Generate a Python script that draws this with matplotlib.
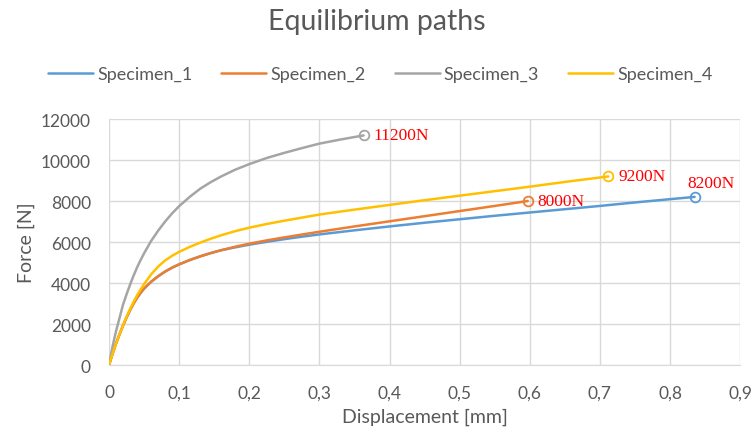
import matplotlib
matplotlib.use('Agg')
import matplotlib.pyplot as plt
from matplotlib.ticker import FuncFormatter, MultipleLocator

# data
x1 = [0, 0.005, 0.01, 0.015, 0.02, 0.025, 0.03, 0.035, 0.04, 0.045, 0.05, 0.06, 0.07, 0.08, 0.09, 0.1,
      0.115, 0.13, 0.145, 0.16, 0.18, 0.2, 0.225, 0.25, 0.275, 0.3, 0.35, 0.4, 0.45, 0.5, 0.55, 0.6,
      0.65, 0.7, 0.75, 0.8, 0.835]
f1 = [0, 550, 1050, 1500, 1930, 2320, 2680, 3000, 3280, 3520, 3730, 4060, 4330, 4560, 4750, 4910,
      5120, 5300, 5460, 5600, 5740, 5870, 6010, 6140, 6260, 6370, 6570, 6760, 6940, 7110, 7280, 7440,
      7600, 7760, 7930, 8090, 8200]
x2 = [0, 0.005, 0.01, 0.015, 0.02, 0.025, 0.03, 0.035, 0.04, 0.045, 0.05, 0.06, 0.07, 0.08, 0.09, 0.1,
      0.115, 0.13, 0.145, 0.16, 0.18, 0.2, 0.225, 0.25, 0.275, 0.3, 0.35, 0.4, 0.45, 0.5, 0.55, 0.597]
f2 = [0, 550, 1050, 1500, 1930, 2320, 2680, 3000, 3280, 3520, 3730, 4060, 4330, 4560, 4750, 4910,
      5120, 5300, 5460, 5600, 5770, 5920, 6080, 6225, 6365, 6500, 6760, 7010, 7260, 7510, 7760, 8000]
x3 = [0, 0.0025, 0.005, 0.0075, 0.01, 0.015, 0.02, 0.025, 0.03, 0.035, 0.04, 0.045, 0.05, 0.06, 0.07,
      0.08, 0.09, 0.1, 0.115, 0.13, 0.145, 0.16, 0.18, 0.2, 0.225, 0.25, 0.275, 0.3, 0.33, 0.363]
f3 = [0, 450, 900, 1280, 1650, 2300, 2950, 3450, 3920, 4360, 4760, 5120, 5450, 6050, 6550,
      7000, 7400, 7750, 8200, 8600, 8920, 9200, 9530, 9800, 10100, 10350, 10580, 10800, 11000, 11200]
x4 = [0, 0.005, 0.01, 0.015, 0.02, 0.025, 0.03, 0.035, 0.04, 0.045, 0.05, 0.06, 0.07, 0.08, 0.09, 0.1,
      0.115, 0.13, 0.145, 0.16, 0.18, 0.2, 0.225, 0.25, 0.275, 0.3, 0.35, 0.4, 0.45, 0.5, 0.55, 0.6,
      0.65, 0.712]
f4 = [0, 550, 1050, 1500, 1950, 2350, 2730, 3080, 3400, 3680, 3950, 4420, 4800, 5100, 5330, 5520,
      5760, 5970, 6160, 6330, 6530, 6700, 6880, 7040, 7190, 7340, 7580, 7810, 8040, 8260, 8480, 8700,
      8930, 9200]

names = ['Specimen_1', 'Specimen_2', 'Specimen_3', 'Specimen_4']
colors = ['#5B9BD5', '#ED7D31', '#A5A5A5', '#FFC000']
end_labels = ['8200N', '8000N', '11200N', '9200N']

plt.rcParams['font.family'] = ['Lato', 'DejaVu Sans']
txt = '#595959'

fig = plt.figure(figsize=(7.53, 4.35), dpi=100)
ax = fig.add_axes([0.1448, 0.1586, 0.8382, 0.5655])

series = [(x1, f1), (x2, f2), (x3, f3), (x4, f4)]
for (x, f), c, n in zip(series, colors, names):
    ax.plot(x, f, color=c, lw=1.8, label=n, solid_capstyle='round', solid_joinstyle='round')
    ax.plot(x[-1], f[-1], 'o', ms=7, mfc='none', mec=c, mew=1.3)

serif = ['Liberation Serif', 'DejaVu Serif']
# end labels
ax.annotate(end_labels[0], (x1[-1], f1[-1]), xytext=(12, 4), textcoords='offset points',
            ha='center', va='bottom', color='#FF0000', fontsize=12.5, family=serif)
for (x, f), lab in zip([series[1], series[2], series[3]], end_labels[1:]):
    ax.annotate(lab, (x[-1], f[-1]), xytext=(7, 0), textcoords='offset points',
                ha='left', va='center', color='#FF0000', fontsize=12.5, family=serif)

ax.set_xlim(0, 0.9)
ax.set_ylim(0, 12000)
ax.xaxis.set_major_locator(MultipleLocator(0.1))
ax.yaxis.set_major_locator(MultipleLocator(2000))
ax.xaxis.set_major_formatter(FuncFormatter(lambda v, p: ('%g' % round(v, 2)).replace('.', ',')))
ax.grid(True, color='#D9D9D9', lw=1)
ax.set_axisbelow(True)
for s in ax.spines.values():
    s.set_visible(False)
ax.spines['bottom'].set_visible(True)
ax.spines['bottom'].set_color('#D9D9D9')
ax.tick_params(length=0, labelsize=12.5, colors=txt)
ax.tick_params(axis='x', pad=14)
ax.tick_params(axis='y', pad=13)

ax.set_xlabel('Displacement [mm]', fontsize=14, color=txt, labelpad=5)
ax.set_ylabel('Force [N]', fontsize=14, color=txt, labelpad=4)

fig.suptitle('Equilibrium paths', fontsize=20.5, color=txt, y=0.98)
fig.legend(loc='center', bbox_to_anchor=(0.505, 0.828), ncol=4, frameon=False,
           fontsize=13, handlelength=2.5, columnspacing=1.6, handletextpad=0.22,
           labelcolor=txt)

fig.savefig('out.png', dpi=100)
